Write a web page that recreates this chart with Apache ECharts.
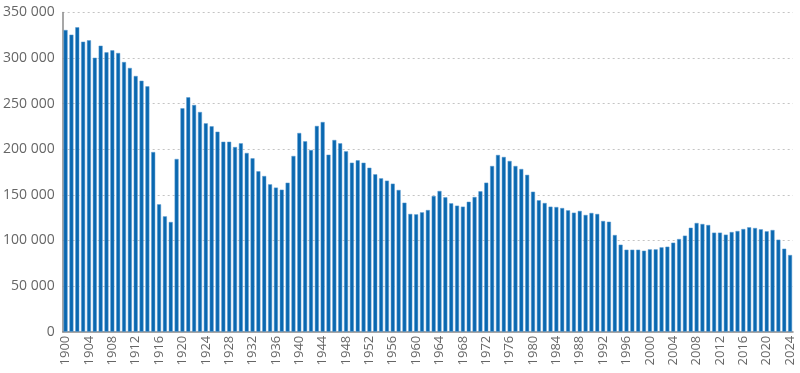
<!DOCTYPE html>
<html><head><meta charset="utf-8">
<script src="https://cdn.jsdelivr.net/npm/echarts@6/dist/echarts.min.js"></script>
<style>html,body{margin:0;padding:0;background:#fff}#c{width:800px;height:373px}</style>
</head><body><div id="c"></div>
<script>
const years = [];
for (let y = 1900; y <= 2024; y++) years.push(String(y));
const values = [
330800,325700,333800,318000,319500,300400,313600,306300,308500,305600,
295700,289200,280400,275200,269000,197000,139700,126500,120300,189400,
245000,257000,248600,240900,228500,225200,219300,208300,208300,202500,
206600,196000,190100,175900,170700,161600,158000,155700,163400,192700,
217900,208800,199200,225600,229900,194100,210200,206600,197800,185300,
187900,185300,179800,172600,168200,165600,162300,155400,141500,129100,
128700,130900,133400,148800,154300,147300,140800,138200,137100,142500,
147700,153900,163400,181700,193800,191600,187200,181700,178400,172000,
153500,144100,141100,137100,136700,135600,133100,130500,132400,128000,
130200,129100,121400,120600,106000,95400,89900,89900,89900,88800,
90300,90300,92500,93200,97600,101600,105300,114000,119200,118100,
117000,108600,108600,106400,109300,110400,112600,114500,113700,112300,
110100,111500,100900,91000,84100
];
const yTicks = [0, 50000, 100000, 150000, 200000, 250000, 300000, 350000];
const fmt = v => String(v).replace(/\B(?=(\d{3})+(?!\d))/g, ' ');
const chart = echarts.init(document.getElementById('c'));
chart.setOption({
  animation: false,
  grid: { left: 62, right: 7, top: 12.5, bottom: 41.3, containLabel: false },
  xAxis: {
    type: 'category', data: years,
    axisLine: { lineStyle: { color: '#8a8a8a', width: 1.5 } },
    axisTick: { show: false },
    axisLabel: { interval: 3, rotate: 90, color: '#666', fontSize: 13, fontFamily: 'Open Sans', margin: 4 }
  },
  yAxis: {
    type: 'value', min: 0, max: yTicks[yTicks.length - 1], interval: 50000,
    axisLine: { show: true, lineStyle: { color: '#8a8a8a', width: 1.5 } },
    axisTick: { show: false },
    splitLine: { lineStyle: { color: '#c4c4c4', type: [2, 3], width: 1 } },
    axisLabel: { color: '#666', fontSize: 14, fontFamily: 'Open Sans', margin: 8, formatter: v => fmt(v) }
  },
  series: [{
    type: 'bar', data: values, barCategoryGap: '32%',
    itemStyle: { color: '#0a68b0', borderColor: '#5b9bd0', borderWidth: 0.5 }
  }]
});
</script></body></html>
